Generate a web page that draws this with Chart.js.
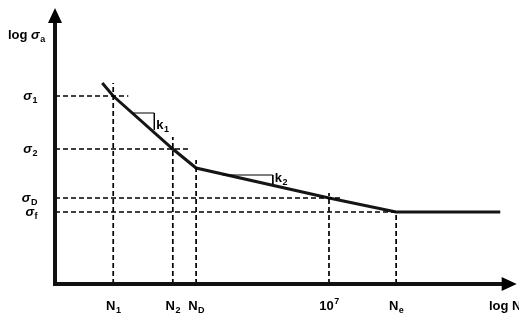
<!DOCTYPE html>
<html>
<head>
<meta charset="utf-8">
<script src="https://cdn.jsdelivr.net/npm/chart.js@4.4.1/dist/chart.umd.min.js"></script>
<style>
  html, body { margin: 0; background: #fff; }
  #wrap { width: 519px; height: 320px; }
</style>
</head>
<body>
<div id="wrap"><canvas id="snChart"></canvas></div>
<script>
// S-N curve (log N vs log sigma), values in arbitrary log units
const curveLogN = [3.69, 3.85, 4.72, 5.06, 7.0, 7.98, 9.5];
const curveLogS = [2.01, 1.88, 1.35, 1.16, 0.86, 0.72, 0.72];

// stress levels on the y axis and how far their dashed line runs
const stressNames = ["1", "2", "D", "f"];
const stressLevels = [1.88, 1.35, 0.86, 0.72];
const stressLineEnd = [4.07, 4.97, 7.2, 7.98];

// cycle marks on the x axis and how high their dashed line runs
const cycleNames = ["N_1", "N_2", "N_D", "10^7", "N_e"];
const cycleLevels = [3.85, 4.72, 5.06, 7.0, 7.98];
const cycleLineTop = [2.01, 1.47, 1.24, 0.91, 0.72];

// slope triangles
const k1LogN = [4.14, 4.45, 4.45];
const k1LogS = [1.71, 1.71, 1.54];
const k2LogN = [5.45, 6.18, 6.18];
const k2LogS = [1.09, 1.09, 1.0];

const axisMax = { x: 9.74, y: 2.76 };

const pts = (xs, ys) => xs.map((x, i) => ({ x: x, y: ys[i] }));

const datasets = [];
stressLevels.forEach((s, i) => {
    datasets.push({ data: [{ x: 3, y: s }, { x: stressLineEnd[i], y: s }], borderColor: "#000", borderWidth: 1.7, borderDash: [5, 3] });
});
cycleLevels.forEach((n, i) => {
    datasets.push({ data: [{ x: n, y: 0 }, { x: n, y: cycleLineTop[i] }], borderColor: "#000", borderWidth: 1.7, borderDash: [5, 3] });
});
datasets.push({ data: pts(k1LogN, k1LogS), borderColor: "#000", borderWidth: 1 });
datasets.push({ data: pts(k2LogN, k2LogS), borderColor: "#000", borderWidth: 1 });
datasets.push({ data: pts(curveLogN, curveLogS), borderColor: "#151515", borderWidth: 3 });

const FONT = '"Liberation Sans", Arial, sans-serif';

// main text + small sub/superscript
function drawLabel(ctx, main, small, x, y, align, sup, italic) {
    const mainFont = (italic ? "italic " : "") + "bold 13px " + FONT;
    ctx.font = mainFont;
    const w1 = ctx.measureText(main).width;
    ctx.font = "bold 9px " + FONT;
    const w2 = ctx.measureText(small).width;
    let left = x;
    if (align === "center") left = x - (w1 + w2) / 2;
    if (align === "right") left = x - w1 - w2;
    ctx.textAlign = "left";
    ctx.textBaseline = "alphabetic";
    ctx.font = mainFont;
    ctx.fillText(main, left, y);
    ctx.font = "bold 9px " + FONT;
    ctx.fillText(small, left + w1 + 0.5, sup ? y - 6 : y + 3);
}

const decorations = {
    id: "decorations",
    afterDatasetsDraw(chart) {
        const ctx = chart.ctx;
        const xs = chart.scales.x, ys = chart.scales.y;
        const x0 = xs.getPixelForValue(3), y0 = ys.getPixelForValue(0);
        const xEnd = xs.getPixelForValue(axisMax.x), yEnd = ys.getPixelForValue(axisMax.y);
        ctx.save();
        ctx.fillStyle = "#000";
        ctx.strokeStyle = "#111";
        ctx.lineWidth = 4;
        ctx.beginPath();
        ctx.moveTo(x0, y0);
        ctx.lineTo(xEnd - 10, y0);
        ctx.moveTo(x0, y0 + 2);
        ctx.lineTo(x0, yEnd + 10);
        ctx.stroke();
        // arrow heads
        ctx.beginPath();
        ctx.moveTo(xEnd, y0);
        ctx.lineTo(xEnd - 15, y0 - 7);
        ctx.lineTo(xEnd - 15, y0 + 7);
        ctx.closePath();
        ctx.fill();
        ctx.beginPath();
        ctx.moveTo(x0, yEnd);
        ctx.lineTo(x0 - 7, yEnd + 15);
        ctx.lineTo(x0 + 7, yEnd + 15);
        ctx.closePath();
        ctx.fill();

        // axis titles
        ctx.font = "bold 13px " + FONT;
        ctx.textAlign = "left";
        ctx.fillText("log", 8, 39);
        drawLabel(ctx, "σ", "a", 8 + ctx.measureText("log ").width, 39, "left", false, true);
        ctx.font = "bold 13px " + FONT;
        ctx.fillText("log N", 489, y0 + 26);

        stressLevels.forEach((s, i) => {
            drawLabel(ctx, "σ", stressNames[i], 37, ys.getPixelForValue(s) + 4, "right", false, true);
        });
        cycleLevels.forEach((n, i) => {
            const parts = cycleNames[i].split(/[_^]/);
            const sup = cycleNames[i].includes("^");
            drawLabel(ctx, parts[0], parts[1], xs.getPixelForValue(n), y0 + 26, "center", sup, false);
        });
        drawLabel(ctx, "k", "1", xs.getPixelForValue(k1LogN[1]) + 2, ys.getPixelForValue(k1LogS[2]) - 1, "left", false, false);
        drawLabel(ctx, "k", "2", xs.getPixelForValue(k2LogN[1]) + 2, ys.getPixelForValue(k2LogS[2]) - 2, "left", false, false);
        ctx.restore();
    }
};

new Chart(document.getElementById("snChart"), {
    type: "line",
    data: { datasets: datasets },
    options: {
        responsive: true,
        maintainAspectRatio: false,
        animation: false,
        layout: { padding: { left: 55, right: 0, top: 0, bottom: 36 } },
        elements: { point: { radius: 0 }, line: { tension: 0, fill: false } },
        plugins: { legend: { display: false }, tooltip: { enabled: false } },
        scales: {
            x: { type: "linear", min: 3, max: 3 + 464 / 68.5, display: false },
            y: { type: "linear", min: 0, max: 2.84, display: false }
        }
    },
    plugins: [decorations]
});
</script>
</body>
</html>
